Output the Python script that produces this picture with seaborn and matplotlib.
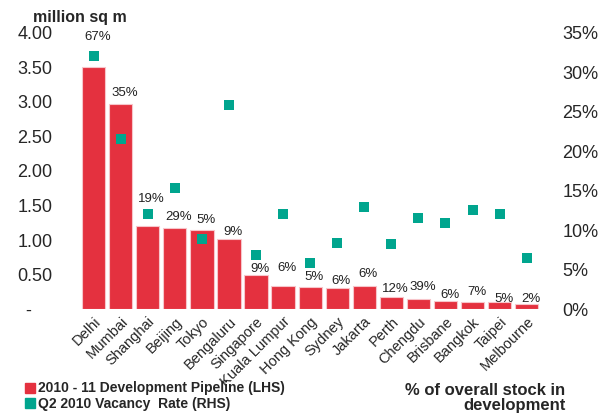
import matplotlib
matplotlib.use("Agg")
import matplotlib.pyplot as plt
import seaborn as sns
import pandas as pd
import numpy as np
from matplotlib.lines import Line2D

cities = ["Delhi", "Mumbai", "Shanghai", "Beijing", "Tokyo", "Bengaluru", "Singapore",
          "Kuala Lumpur", "Hong Kong", "Sydney", "Jakarta", "Perth", "Chengdu", "Brisbane",
          "Bangkok", "Taipei", "Melbourne"]
pipeline = [3.50, 2.97, 1.21, 1.17, 1.14, 1.02, 0.49, 0.34, 0.32, 0.30, 0.34, 0.17,
            0.15, 0.12, 0.10, 0.10, 0.08]
vacancy = [32.1, 21.5, 12.1, 15.4, 8.9, 25.9, 6.8, 12.1, 5.9, 8.4, 12.9, 8.2, 11.6,
           10.9, 12.5, 12.1, 6.5]
pct_stock = ["67%", "35%", "19%", "29%", "5%", "9%", "9%", "6%", "5%", "6%", "6%",
             "12%", "39%", "6%", "7%", "5%", "2%"]
# vertical placement of the % labels (left-axis units)
pct_label_y = [3.94, 3.13, 1.60, 1.33, 1.29, 1.12, 0.58, 0.60, 0.46, 0.41, 0.51, 0.29,
               0.32, 0.20, 0.25, 0.14, 0.14]
left_ticks = [0, 0.5, 1.0, 1.5, 2.0, 2.5, 3.0, 3.5, 4.0]
right_ticks = [0, 5, 10, 15, 20, 25, 30, 35]

RED = "#E4313F"
TEAL = "#00A58E"

df = pd.DataFrame({"city": cities, "pipeline": pipeline, "vacancy": vacancy})

sns.set_theme(style="white")
plt.rcParams["font.family"] = ["Liberation Sans", "DejaVu Sans"]

fig = plt.figure(figsize=(6.16, 4.16), dpi=100)
ax = fig.add_axes([0.130, 0.257, 0.747, 0.664])

sns.barplot(data=df, x="city", y="pipeline", color=RED, saturation=1, width=0.86,
            edgecolor="#F7C5CA", linewidth=0.8, ax=ax, zorder=2)
ax.set_ylim(0, 4)
ax.set_xlim(-0.5, len(cities) - 0.5)
ax.set_yticks(left_ticks)
ax.set_yticklabels(["-    "] + [f"{v:.2f}" for v in left_ticks[1:]], fontsize=13)
ax.tick_params(axis="y", length=0, pad=20)
ax.set_xlabel("")
ax.set_ylabel("")

ax2 = ax.twinx()
sns.stripplot(data=df, x="city", y="vacancy", color=TEAL, marker="s", size=6.5,
              jitter=False, linewidth=0, ax=ax2, zorder=3)
ax2.set_ylim(0, 35)
ax2.set_xlim(-0.5, len(cities) - 0.5)
ax2.set_yticks(right_ticks)
ax2.set_yticklabels([f"{v}%" for v in right_ticks], fontsize=13)
ax2.tick_params(axis="y", length=0, pad=16)
ax2.set_ylabel("")
ax2.set_xlabel("")

ax.set_xticks(range(len(cities)))
ax.set_xticklabels(cities, rotation=45, ha="right", rotation_mode="anchor", fontsize=10.5)
ax.tick_params(axis="x", length=0, pad=4)
ax2.tick_params(axis="x", length=0, labelbottom=False)

for a in (ax, ax2):
    for s in a.spines.values():
        s.set_visible(False)
    a.grid(False)

for i, (lbl, ly) in enumerate(zip(pct_stock, pct_label_y)):
    ax.text(i + 0.15, ly, lbl, ha="center", va="center", fontsize=9.5, color="#222222",
            zorder=5)

fig.text(0.053, 0.958, "million sq m", fontsize=11.5, fontweight="bold", ha="left",
         va="center")

handles = [Line2D([], [], marker="s", linestyle="", color=RED, markersize=6.5),
           Line2D([], [], marker="s", linestyle="", color=TEAL, markersize=6.5)]
fig.legend(handles, ["2010 - 11 Development Pipeline (LHS)", "Q2 2010 Vacancy  Rate (RHS)"],
           loc="upper left", bbox_to_anchor=(0.042, 0.083), frameon=False,
           handlelength=0.6, handletextpad=0.25, labelspacing=0.1, borderpad=0,
           borderaxespad=0, prop={"weight": "bold", "size": 10})

fig.text(0.918, 0.043, "% of overall stock in\ndevelopment", fontsize=12,
         fontweight="bold", ha="right", va="center", multialignment="right",
         linespacing=1.0)

fig.savefig("out.png", dpi=100)
